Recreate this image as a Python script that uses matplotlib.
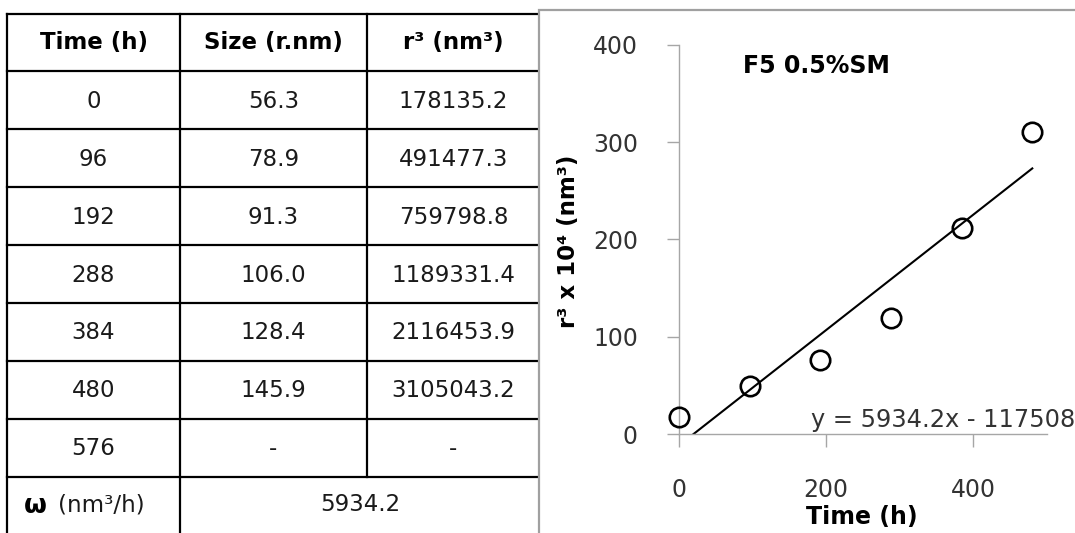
import matplotlib
matplotlib.use("Agg")
import matplotlib.pyplot as plt
from matplotlib.lines import Line2D
from matplotlib.patches import Rectangle

# ---- data ----
times = [0, 96, 192, 288, 384, 480, 576]
sizes = [56.3, 78.9, 91.3, 106.0, 128.4, 145.9, None]
r_cubed = [178135.2, 491477.3, 759798.8, 1189331.4, 2116453.9, 3105043.2, None]
headers = ["Time (h)", "Size (r.nm)", "r³ (nm³)"]
growth_rate = 5934.2          # omega, nm^3/h (slope of the fit)
fit_intercept = -117508.0
plot_title = "F5 0.5%SM"
x_ticks = [0, 200, 400]
y_ticks = [0, 100, 200, 300, 400]

plt.rcParams["font.family"] = ["DejaVu Sans"]

W, H = 1075, 533
fig = plt.figure(figsize=(W / 100, H / 100), dpi=100)

# background canvas in pixel coordinates
bg = fig.add_axes([0, 0, 1, 1])
bg.set_xlim(0, W)
bg.set_ylim(H, 0)
bg.axis("off")

# ---- table ----
col_x = [7, 180, 367, 540]
row_h = 57.9
top = 13.5
n_rows = 1 + len(times) + 1
row_y = [top + i * row_h for i in range(n_rows + 1)]
lw = 1.6

for y in row_y[:n_rows]:
    bg.add_line(Line2D([col_x[0], col_x[-1]], [y, y], color="black", lw=lw, zorder=2))
for x in col_x[:2]:
    bg.add_line(Line2D([x, x], [row_y[0], H + 5], color="black", lw=lw, zorder=2))
# the last column divider stops above the merged omega row
bg.add_line(Line2D([col_x[2], col_x[2]], [row_y[0], row_y[n_rows - 1]],
                   color="black", lw=lw, zorder=2))

centers = [(col_x[i] + col_x[i + 1]) / 2 for i in range(3)]
txt_kw = dict(ha="center", va="center", fontsize=16.5, color="#1a1a1a", zorder=3)

for c, h in zip(centers, headers):
    bg.text(c, (row_y[0] + row_y[1]) / 2, h, fontsize=16.5, fontweight="bold",
            ha="center", va="center", color="black", zorder=3)

for i, (t, s, r) in enumerate(zip(times, sizes, r_cubed)):
    yc = (row_y[i + 1] + row_y[i + 2]) / 2 + 1
    bg.text(centers[0], yc, f"{t}", **txt_kw)
    bg.text(centers[1], yc, "-" if s is None else f"{s:.1f}", **txt_kw)
    bg.text(centers[2], yc, "-" if r is None else f"{r:.1f}", **txt_kw)

yc = (row_y[-2] + row_y[-1]) / 2 - 1
bg.text(35, yc + 1, "ω", fontsize=19, fontweight="bold", ha="center", va="center",
        color="black", zorder=3)
bg.text(58, yc, "(nm³/h)", fontsize=16.5, ha="left", va="center",
        color="#1a1a1a", zorder=3)
bg.text((col_x[1] + col_x[3]) / 2, yc, f"{growth_rate:.1f}", **txt_kw)

# ---- chart panel ----
bg.add_patch(Rectangle((539, 10), 600, 600, facecolor="white",
                       edgecolor="#a0a0a0", lw=1.6, zorder=4))

ax_l, ax_r, ax_t, ax_b = 679, 1047, 45, 434
ax = fig.add_axes([ax_l / W, (H - ax_b) / H, (ax_r - ax_l) / W, (ax_b - ax_t) / H])
ax.patch.set_alpha(0)
ax.set_xlim(0, 500)
ax.set_ylim(0, 400)
for s in ("top", "right"):
    ax.spines[s].set_visible(False)
for s in ("left", "bottom"):
    ax.spines[s].set_color("#a6a6a6")
    ax.spines[s].set_linewidth(1.0)
ax.set_xticks(x_ticks)
ax.set_yticks(y_ticks)
ax.tick_params(axis="both", direction="out", color="#a6a6a6", width=1.0,
               labelsize=17, labelcolor="#333333")
ax.tick_params(axis="y", length=8.6, pad=21)
ax.tick_params(axis="x", length=9.4, pad=22)

y_scaled = [r / 1e4 for r in r_cubed if r is not None]
x_pts = times[:len(y_scaled)]

fit_x = [x_pts[0], x_pts[-1]]
fit_y = [(growth_rate * x + fit_intercept) / 1e4 for x in fit_x]
ax.plot(fit_x, fit_y, color="black", lw=1.5, zorder=2)
ax.plot(x_pts, y_scaled, linestyle="none", marker="o", markersize=14,
        markerfacecolor="none", markeredgecolor="black", markeredgewidth=1.9,
        zorder=3, clip_on=False)

ax.set_xlabel("Time (h)", fontsize=17, fontweight="bold", va="center")
ax.xaxis.set_label_coords((862 - ax_l) / (ax_r - ax_l), -(517 - ax_b) / (ax_b - ax_t))
ax.set_ylabel("r³ x 10⁴ (nm³)", fontsize=16.5, fontweight="bold", va="center")
ax.yaxis.set_label_coords(-(ax_l - 568) / (ax_r - ax_l), (ax_b - 241) / (ax_b - ax_t))

fig.text(743 / W, 1 - 66 / H, plot_title, fontsize=17, fontweight="bold",
         ha="left", va="center", color="black")
fig.text(811 / W, 1 - 427 / H,
         f"y = {growth_rate:.1f}x - {abs(fit_intercept):.0f}",
         fontsize=17.4, ha="left", va="baseline", color="#333333")

fig.savefig("out.png", dpi=100)
